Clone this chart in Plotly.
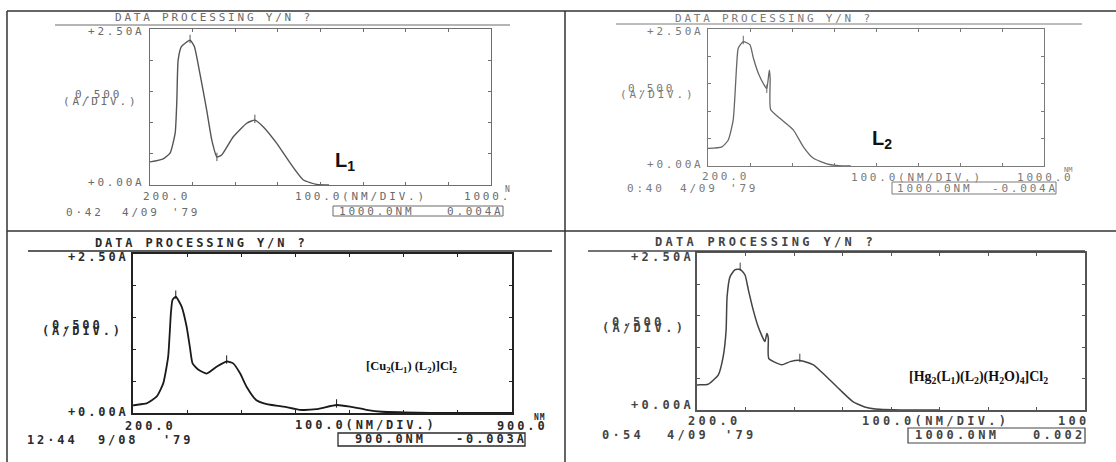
import plotly.graph_objects as go

W, H = 1116, 462
MONO = "DejaVu Sans Mono"

# ---------------- data ----------------
# Panel 1 : L1
l1_nm = [200, 231, 247, 259, 263, 266, 274, 294, 304, 317, 333, 345, 357, 368, 395, 427, 446, 466, 497, 529, 560, 591, 620]
l1_abs = [0.37, 0.42, 0.51, 0.83, 1.36, 2.00, 2.22, 2.32, 2.22, 1.79, 1.20, 0.72, 0.45, 0.48, 0.77, 0.99, 1.04, 0.93, 0.67, 0.35, 0.08, 0.01, 0.0]
l1_peak_nm = [294, 357, 446]
l1_peak_abs = [2.34, 0.45, 1.06]

# Panel 2 : L2
l2_nm = [200, 233, 248, 260, 268, 272, 284, 300, 308, 320, 336, 340, 346, 348, 349, 371, 403, 427, 451, 483, 510, 540]
l2_abs = [0.32, 0.35, 0.47, 0.84, 1.81, 2.15, 2.27, 2.21, 1.97, 1.69, 1.45, 1.41, 1.75, 1.60, 1.03, 0.87, 0.66, 0.35, 0.14, 0.04, 0.005, 0.0]
l2_peak_nm = [284, 340]
l2_peak_abs = [2.30, 1.41]

# Panel 3 : [Cu2(L1)(L2)]Cl2
cu_nm = [200, 204, 225, 244, 256, 265, 270, 273, 279, 290, 299, 305, 310, 321, 336, 355, 373, 385, 398, 410, 428, 447, 478, 508, 539, 576, 601, 631, 660, 700, 750, 900]
cu_abs = [0.12, 0.126, 0.15, 0.26, 0.47, 0.89, 1.57, 1.78, 1.83, 1.67, 1.36, 1.04, 0.78, 0.68, 0.62, 0.73, 0.81, 0.78, 0.62, 0.41, 0.20, 0.14, 0.10, 0.05, 0.06, 0.126, 0.10, 0.05, 0.02, 0.01, 0.0, 0.0]
cu_peak_nm = [279, 373, 576]
cu_peak_abs = [1.86, 0.84, 0.15]

# Panel 4 : [Hg2(L1)(L2)(H2O)4]Cl2
hg_nm = [200, 203, 223, 244, 254, 260, 262, 268, 278, 289, 299, 306, 316, 326, 340, 344, 347, 348, 375, 392, 412, 440, 467, 495, 522, 550, 577, 620, 700]
hg_abs = [0.40, 0.40, 0.41, 0.56, 0.85, 1.27, 1.80, 2.12, 2.23, 2.24, 2.15, 1.91, 1.59, 1.33, 1.09, 1.22, 1.15, 0.82, 0.72, 0.77, 0.79, 0.72, 0.53, 0.32, 0.13, 0.04, 0.01, 0.0, 0.0]
hg_peak_nm = [289, 412]
hg_peak_abs = [2.28, 0.83]

x_ranges = [[200, 1000], [200, 1000], [200, 900], [200, 1000]]
y_range = [0, 2.5]

# ---------------- layout geometry (pixels) ----------------
boxes = [(150, 491, 29, 185), (708, 1044, 29, 166), (133, 512, 254, 413), (697, 1085, 253, 410)]
curve_colors = ["#555555", "#666666", "#1a1a1a", "#444444"]
curve_widths = [1.4, 1.3, 1.8, 1.5]
frame_colors = ["#6e6e6e", "#7a7a7a", "#222222", "#555555"]
frame_widths = [1.4, 1.3, 2.0, 1.6]
text_colors = ["#6a6a6a", "#7a7a7a", "#2a2a2a", "#444444"]

series = [(l1_nm, l1_abs, l1_peak_nm, l1_peak_abs),
          (l2_nm, l2_abs, l2_peak_nm, l2_peak_abs),
          (cu_nm, cu_abs, cu_peak_nm, cu_peak_abs),
          (hg_nm, hg_abs, hg_peak_nm, hg_peak_abs)]

fig = go.Figure()
layout = dict(width=W, height=H, margin=dict(l=0, r=0, t=0, b=0),
              paper_bgcolor="white", plot_bgcolor="white", showlegend=False)

for i, ((nm, ab, pnm, pab), (x0, x1, y0, y1)) in enumerate(zip(series, boxes)):
    k = "" if i == 0 else str(i + 1)
    fig.add_trace(go.Scatter(x=nm, y=ab, mode="lines", xaxis="x" + k, yaxis="y" + k,
                             line=dict(color=curve_colors[i], width=curve_widths[i],
                                       shape="spline", smoothing=0.5),
                             hoverinfo="skip"))
    fig.add_trace(go.Scatter(x=pnm, y=pab, mode="markers", xaxis="x" + k, yaxis="y" + k,
                             marker=dict(symbol="line-ns", size=6,
                                         line=dict(color=curve_colors[i], width=1)),
                             hoverinfo="skip"))
    ax = dict(domain=[x0 / W, x1 / W], range=x_ranges[i], dtick=100, tick0=200,
              showgrid=False, zeroline=False, showticklabels=False,
              ticks="inside", ticklen=3, tickwidth=1.2, tickcolor=frame_colors[i],
              showline=True, linecolor=frame_colors[i], linewidth=frame_widths[i], mirror="allticks",
              anchor="y" + k)
    ay = dict(domain=[1 - y1 / H, 1 - y0 / H], range=y_range, dtick=0.5, tick0=0,
              showgrid=False, zeroline=False, showticklabels=False,
              ticks="inside", ticklen=3, tickwidth=1.2, tickcolor=frame_colors[i],
              showline=True, linecolor=frame_colors[i], linewidth=frame_widths[i], mirror="allticks",
              anchor="x" + k)
    layout["xaxis" + k] = ax
    layout["yaxis" + k] = ay

fig.update_layout(**layout)

anns = []
shapes = []


def txt(s, x, y, color, size=11, ls=2.8, anchor="left", family=MONO, spaced=True, bold=False):
    t = f'<span style="letter-spacing:{ls}px">{s}</span>' if spaced else s
    anns.append(dict(text=t, x=x / W, y=1 - y / H, xref="paper", yref="paper",
                     xanchor=anchor, yanchor="middle", showarrow=False, borderpad=0, borderwidth=0,
                     font=dict(family=family, size=size, color=color,
                               weight="bold" if bold else "normal")))


def btxt(s, x, y, color, anchor="left", ls=2.9):
    txt(s, x, y, color, size=12, ls=ls, anchor=anchor, bold=True)


def hline(x0, x1, y, color, w=1.2):
    shapes.append(dict(type="line", xref="paper", yref="paper", x0=x0 / W, x1=x1 / W,
                       y0=1 - y / H, y1=1 - y / H, line=dict(color=color, width=w)))


def vline(x, y0, y1, color, w=1.2):
    shapes.append(dict(type="line", xref="paper", yref="paper", x0=x / W, x1=x / W,
                       y0=1 - y0 / H, y1=1 - y1 / H, line=dict(color=color, width=w)))


def rect(x0, x1, y0, y1, color, w=1):
    shapes.append(dict(type="rect", xref="paper", yref="paper", x0=x0 / W, x1=x1 / W,
                       y0=1 - y1 / H, y1=1 - y0 / H, line=dict(color=color, width=w)))


# table borders
hline(7, 1116, 11, "#333333", 1.5)
hline(7, 1116, 231, "#333333", 1.5)
vline(7, 11, 462, "#333333", 1.5)
vline(565, 11, 462, "#333333", 1.5)

# ---- panel 1 ----
c = text_colors[0]
txt("DATA PROCESSING Y/N ?", 115, 17, c)
hline(55, 510, 25, c, 1)
txt("+2.50A", 145, 32, c, anchor="right")
txt("0.500", 75, 95, c)
txt("(A/DIV.)", 63, 102, c)
txt("+0.00A", 145, 183, c, anchor="right")
txt("200.0", 143, 197, c)
txt("100.0(NM/DIV.)", 295, 197, c)
txt("1000.", 511, 197, c, anchor="right")
txt("N", 510, 189, c, size=8, ls=0, anchor="right")
txt("0·42", 66, 212, c)
txt("4/09", 122, 212, c)
txt("'79", 172, 212, c)
rect(333, 503, 206, 216, c)
txt("1000.0NM", 339, 211, c)
txt("0.004A", 504, 211, c, anchor="right")
txt("L<sub>1</sub>", 335, 161, "#111111", size=20, family="Liberation Sans", spaced=False, bold=True)

# ---- panel 2 ----
c = text_colors[1]
txt("DATA PROCESSING Y/N ?", 675, 18, c)
hline(616, 1082, 24, c, 1)
txt("+2.50A", 704, 31, c, anchor="right")
txt("0.500", 628, 88, c)
txt("(A/DIV.)", 620, 94, c)
txt("+0.00A", 704, 164, c, anchor="right")
txt("200.0", 702, 176, c)
txt("100.0(NM/DIV.)", 851, 177, c)
txt("1000.0", 1074, 177, c, anchor="right")
txt("NM", 1072, 170, c, size=7, ls=0, anchor="right")
txt("0:40", 627, 188, c)
txt("4/09", 680, 188, c)
txt("'79", 730, 188, c)
rect(892, 1056, 182, 194, c)
txt("1000.0NM", 897, 188, c)
txt("-0.004A", 1058, 188, c, anchor="right")
txt("L<sub>2</sub>", 872, 140, "#111111", size=20, family="Liberation Sans", spaced=False, bold=True)

# ---- panel 3 ----
c = text_colors[2]
btxt("DATA PROCESSING Y/N ?", 95, 243, c)
hline(28, 552, 251, c, 1.4)
btxt("+2.50A", 129, 257, c, anchor="right")
btxt("0.500", 52, 325, c)
btxt("(A/DIV.)", 42, 331, c)
btxt("+0.00A", 129, 412, c, anchor="right")
btxt("200.0", 125, 426, c)
btxt("100.0(NM/DIV.)", 295, 425, c)
btxt("900.0", 548, 426, c, anchor="right")
txt("NM", 546, 417, c, size=8, ls=1, anchor="right", bold=True)
btxt("12·44", 27, 440, c)
btxt("9/08", 98, 440, c)
btxt("'79", 163, 440, c)
rect(338, 525, 433, 446, c, 1.3)
btxt("900.0NM", 355, 439, c)
btxt("-0.003A", 527, 439, c, anchor="right")
txt("[Cu<sub>2</sub>(L<sub>1</sub>) (L<sub>2</sub>)]Cl<sub>2</sub>", 366, 367, "#111111",
    size=12.5, family="Liberation Serif", spaced=False, bold=True)

# ---- panel 4 ----
c = text_colors[3]
btxt("DATA PROCESSING Y/N ?", 655, 242, c, ls=3.3)
hline(588, 1085, 251, c, 1.3)
btxt("+2.50A", 694, 257, c, anchor="right", ls=3.3)
btxt("0.500", 612, 322, c, ls=3.3)
btxt("(A/DIV.)", 602, 328, c, ls=3.3)
btxt("+0.00A", 694, 405, c, anchor="right", ls=3.3)
btxt("200.0", 688, 421, c, ls=3.3)
btxt("100.0(NM/DIV.)", 862, 421, c, ls=3.3)
btxt("100", 1058, 421, c, ls=3.3)
btxt("0·54", 602, 435, c, ls=3.3)
btxt("4/09", 667, 435, c, ls=3.3)
btxt("'79", 725, 435, c, ls=3.3)
rect(908, 1085, 428, 443, c, 1.2)
btxt("1000.0NM", 915, 435, c, ls=3.3)
btxt("0.002", 1033, 435, c, ls=3.3)
txt("[Hg<sub>2</sub>(L<sub>1</sub>)(L<sub>2</sub>)(H<sub>2</sub>O)<sub>4</sub>]Cl<sub>2</sub>", 909, 377, "#111111",
    size=14, family="Liberation Serif", spaced=False, bold=True)

fig.update_layout(annotations=anns, shapes=shapes)
fig.write_html("out.html")
